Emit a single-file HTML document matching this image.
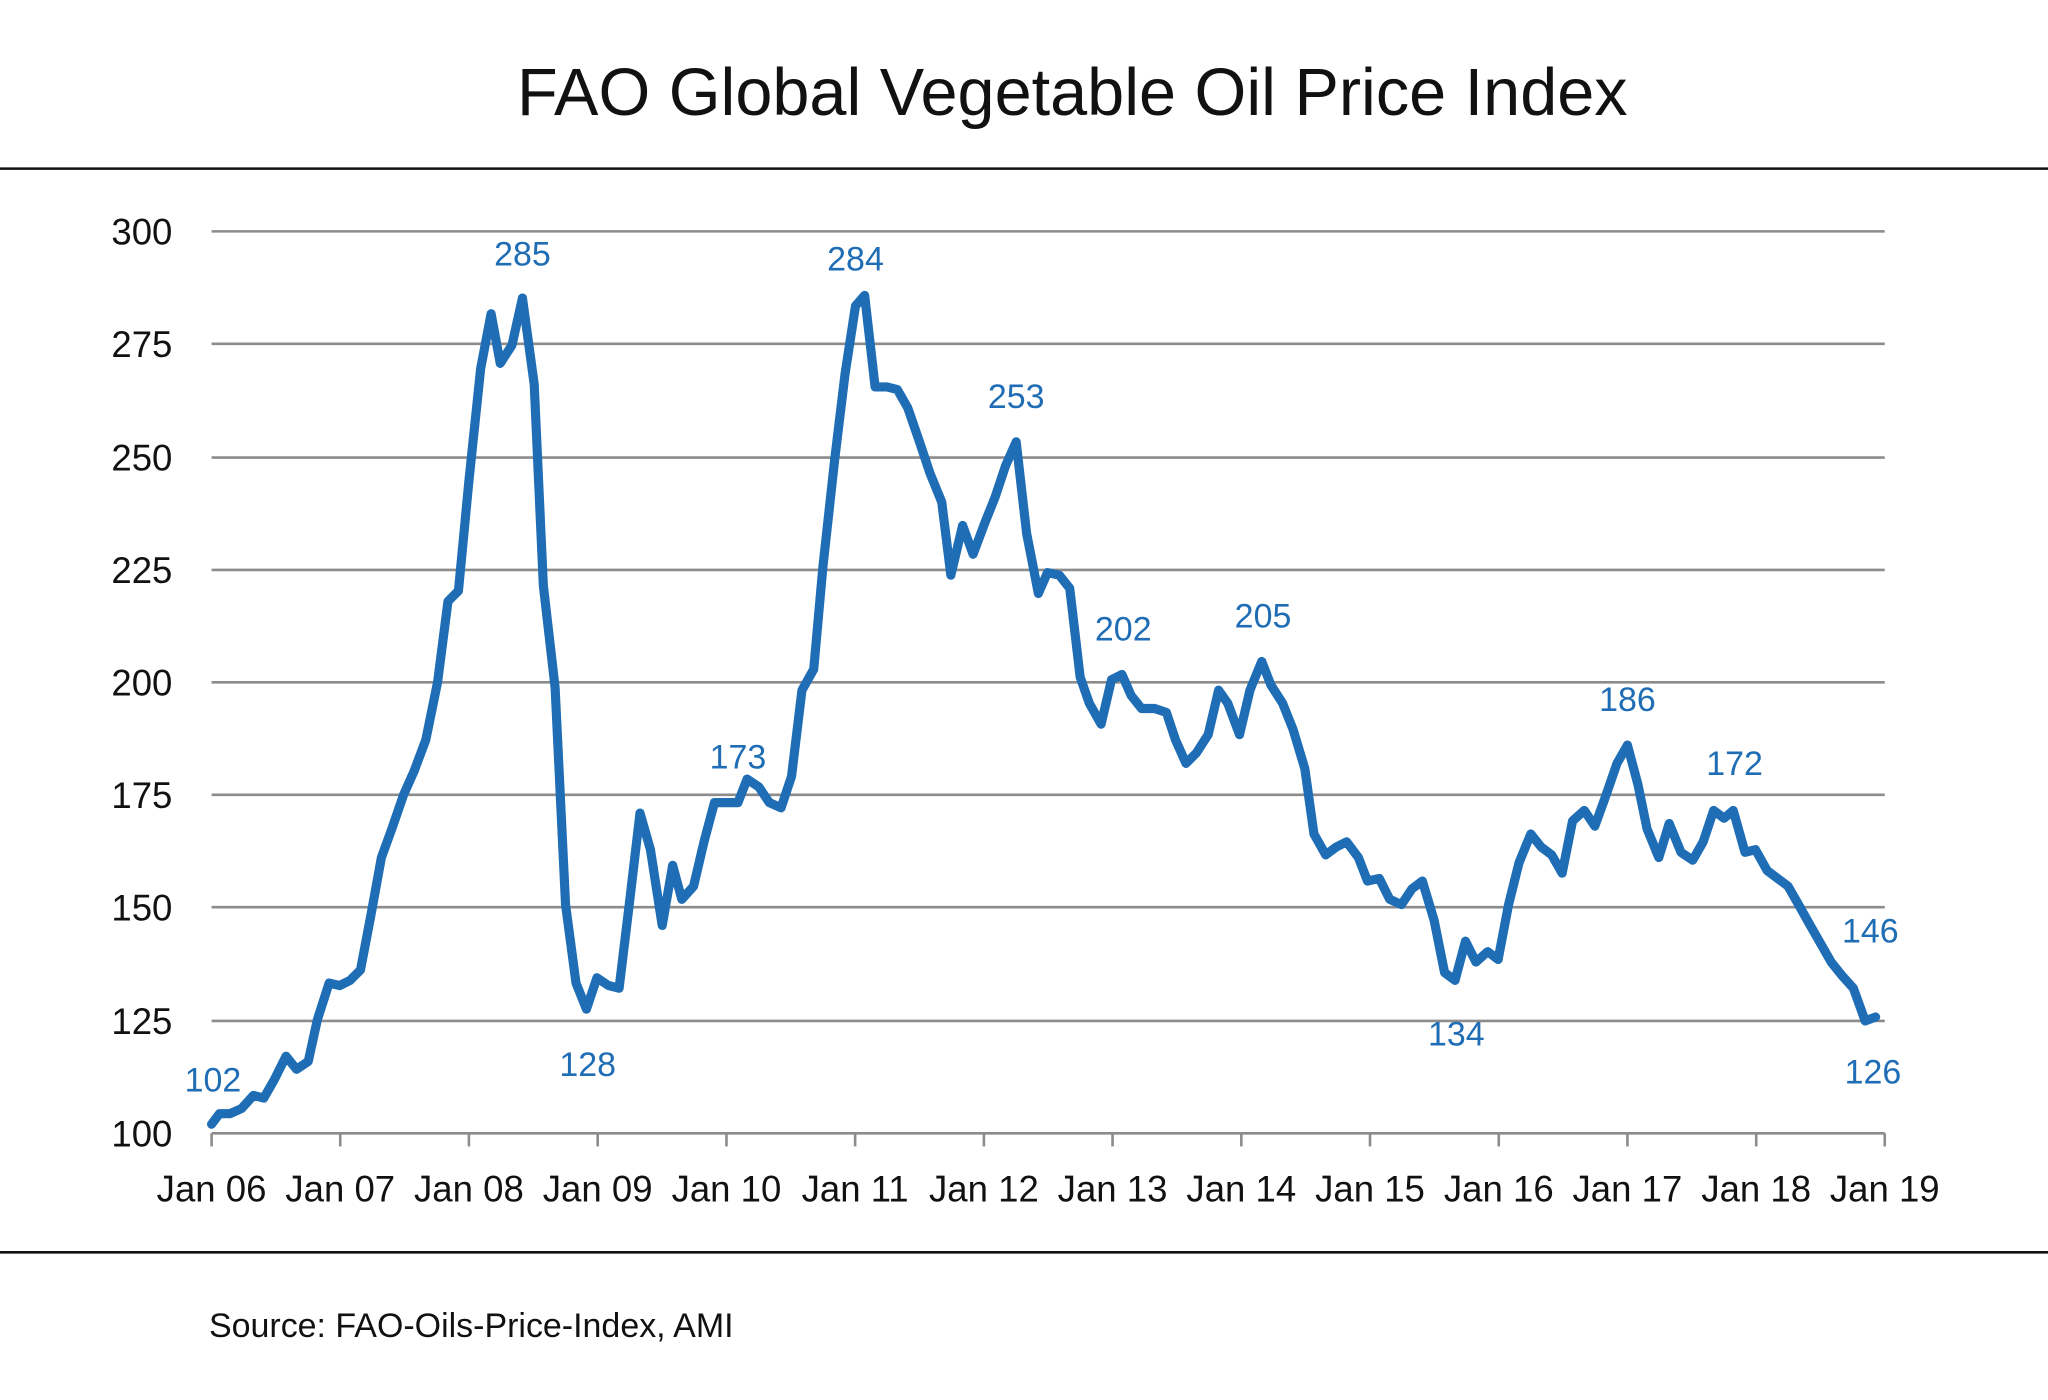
<!DOCTYPE html>
<html><head><meta charset="utf-8"><style>html,body{margin:0;padding:0;background:#fff}svg{display:block}</style></head>
<body>
<svg width="2048" height="1400" viewBox="0 0 1568 1071" preserveAspectRatio="none" xmlns="http://www.w3.org/2000/svg" font-family="Liberation Sans, DejaVu Sans, sans-serif">
<rect width="1568" height="1071" fill="#fff"/>
<text x="821" y="88" font-size="51" text-anchor="middle" fill="#111">FAO Global Vegetable Oil Price Index</text>
<line x1="0" y1="129" x2="1568" y2="129" stroke="#111" stroke-width="2"/>
<line x1="0" y1="958" x2="1568" y2="958" stroke="#111" stroke-width="2"/>
<text x="160" y="1023" font-size="26" fill="#111">Source: FAO-Oils-Price-Index, AMI</text>
<g stroke="#8c8c8c" stroke-width="2">
<line x1="162" y1="177" x2="1443" y2="177"/><line x1="162" y1="263" x2="1443" y2="263"/>
<line x1="162" y1="350" x2="1443" y2="350"/><line x1="162" y1="436" x2="1443" y2="436"/>
<line x1="162" y1="522" x2="1443" y2="522"/><line x1="162" y1="608" x2="1443" y2="608"/>
<line x1="162" y1="694" x2="1443" y2="694"/><line x1="162" y1="781" x2="1443" y2="781"/>
<line x1="162" y1="867" x2="1443" y2="867"/>
<line x1="162" y1="867" x2="162" y2="877"/><line x1="260.5" y1="867" x2="260.5" y2="877"/><line x1="359" y1="867" x2="359" y2="877"/><line x1="457.6" y1="867" x2="457.6" y2="877"/><line x1="556.2" y1="867" x2="556.2" y2="877"/><line x1="654.7" y1="867" x2="654.7" y2="877"/><line x1="753.3" y1="867" x2="753.3" y2="877"/><line x1="851.8" y1="867" x2="851.8" y2="877"/><line x1="950.4" y1="867" x2="950.4" y2="877"/><line x1="1048.9" y1="867" x2="1048.9" y2="877"/><line x1="1147.5" y1="867" x2="1147.5" y2="877"/><line x1="1246" y1="867" x2="1246" y2="877"/><line x1="1344.6" y1="867" x2="1344.6" y2="877"/><line x1="1443" y1="867" x2="1443" y2="877"/>
</g>
<g font-size="28" fill="#111" text-anchor="end">
<text x="132" y="187">300</text><text x="132" y="273">275</text><text x="132" y="360">250</text><text x="132" y="446">225</text><text x="132" y="532">200</text><text x="132" y="618">175</text><text x="132" y="704">150</text><text x="132" y="791">125</text><text x="132" y="877">100</text>
</g>
<g font-size="28" fill="#111" text-anchor="middle">
<text x="162" y="919">Jan 06</text><text x="260.5" y="919">Jan 07</text><text x="359" y="919">Jan 08</text><text x="457.6" y="919">Jan 09</text><text x="556.2" y="919">Jan 10</text><text x="654.7" y="919">Jan 11</text><text x="753.3" y="919">Jan 12</text><text x="851.8" y="919">Jan 13</text><text x="950.4" y="919">Jan 14</text><text x="1048.9" y="919">Jan 15</text><text x="1147.5" y="919">Jan 16</text><text x="1246" y="919">Jan 17</text><text x="1344.6" y="919">Jan 18</text><text x="1443" y="919">Jan 19</text>
</g>
<polyline fill="none" stroke="#1f6db5" stroke-width="7" stroke-linejoin="round" stroke-linecap="round" points="162,860 168,852 176,852 185,848 194,838 202,840 210,826 219,808 227,818 236,812 243,780 252,752 260,754 268,750 276,742 284,700 292,656 300,634 309,608 317,590 326,566 335,522 343,460 351,452 359,368 368,282 376,240 383,278 392,264 400,228 409,294 416,448 425,526 433,692 441,752 449,772 457,748 466,754 474,756 482,690 490,622 498,650 507,708 515,662 522,688 531,678 539,644 547,614 556,614 565,614 572,596 581,602 589,614 598,618 606,594 614,528 623,512 630,434 639,352 647,286 655,234 662,226 670,296 679,296 687,298 695,312 704,338 712,362 721,384 728,440 737,402 745,424 754,400 762,380 770,356 778,338 786,408 795,454 802,438 811,440 819,450 827,518 834,538 843,554 851,520 859,516 866,532 874,542 884,542 893,545 900,566 908,584 916,576 925,562 933,528 940,538 949,562 957,528 966,506 973,524 982,538 990,558 999,588 1006,638 1015,654 1023,648 1031,644 1040,656 1047,674 1056,672 1064,688 1073,692 1081,680 1089,674 1098,704 1106,744 1114,750 1122,720 1130,736 1139,728 1147,734 1155,692 1163,660 1172,638 1180,648 1188,654 1196,668 1204,628 1213,620 1221,632 1229,610 1238,584 1246,570 1254,600 1261,634 1270,656 1278,630 1287,652 1296,658 1304,644 1312,620 1320,626 1327,620 1336,652 1344,650 1353,666 1361,672 1369,678 1377,692 1386,708 1394,722 1402,736 1410,746 1419,756 1428,781 1436,778"/>
<g font-size="26" fill="#1f6db5" text-anchor="middle">
<text x="163" y="835">102</text><text x="400" y="203">285</text><text x="450" y="823">128</text><text x="565" y="588">173</text><text x="655" y="207">284</text><text x="778" y="312">253</text><text x="860" y="490">202</text><text x="967" y="480">205</text><text x="1115" y="800">134</text><text x="1246" y="544">186</text><text x="1328" y="593">172</text><text x="1432" y="721">146</text><text x="1434" y="829">126</text>
</g>
</svg>
</body></html>
